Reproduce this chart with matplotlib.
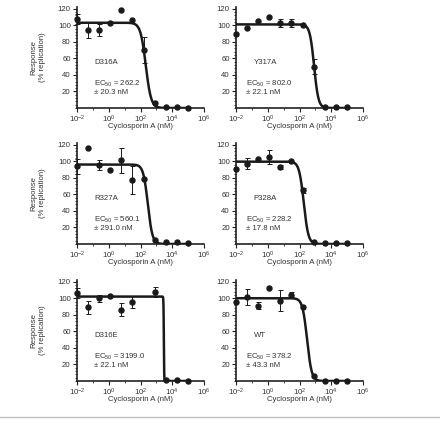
import numpy as np
import matplotlib
matplotlib.use("Agg")
import matplotlib.pyplot as plt
from matplotlib.ticker import FixedLocator, MultipleLocator, NullFormatter
from matplotlib.lines import Line2D

plt.rcParams['font.family'] = ['Liberation Sans', 'DejaVu Sans']
plt.rcParams['mathtext.default'] = 'regular'

# Concentrations (nM), 5-fold dilution series
conc = [0.01, 0.05, 0.25, 1.25, 6.25, 31.25, 156.25, 781.25, 3906.25, 19531.25, 97656.25]

names = ["D316A", "Y317A", "R327A", "P328A", "D316E", "WT"]
ec50_text = ["262.2", "802.0", "560.1", "228.2", "3199.0", "378.2"]
ec50_err_text = ["20.3", "22.1", "291.0", "17.8", "22.1", "43.3"]

resp_D316A = [107, 94, 94, 103, 118, 106, 70, 6, 1, 1, 0.5]
err_D316A = [6, 10, 7, 0, 0, 0, 16, 0, 0, 0, 0]
resp_Y317A = [89, 97, 105, 110, 103, 103, 100, 50, 1, 1, 1]
err_Y317A = [0, 0, 0, 0, 5, 5, 0, 9.5, 0, 0, 0]
resp_R327A = [94, 116, 95, 89, 101, 77, 79, 5, 3, 3, 1]
err_R327A = [9, 0, 6, 0, 15, 17, 0, 0, 0, 0, 0]
resp_P328A = [91, 97, 103, 105, 93, 100, 65, 2, 1, 1, 1]
err_P328A = [0, 7, 0, 8, 3, 0, 3, 0, 0, 0, 0]
conc_D316E = [0.01, 0.05, 0.25, 1.25, 6.25, 31.25, 781.25, 3906.25, 19531.25, 97656.25]
resp_D316E = [106.5, 89, 100, 103, 86, 95.5, 107, 1.5, 1, 0.5]
err_D316E = [6, 8, 4, 0, 8, 7, 6, 0, 0, 0]
resp_WT = [95.5, 101.5, 91, 112, 97, 104, 89, 6.5, 0.5, 0.5, 0.5]
err_WT = [0, 10, 4, 0, 13, 3, 0, 0, 0, 0, 0]

# Fitted curve parameters (visual): top, midpoint (nM), Hill slope
fit_top = [103, 101, 96, 99.5, 102, 100]
fit_mid = [215, 830, 290, 185, 2950, 300]
fit_hill = [2.6, 3.2, 3.0, 3.0, 40, 3.0]

concs = [conc, conc, conc, conc, conc_D316E, conc]
resps = [resp_D316A, resp_Y317A, resp_R327A, resp_P328A, resp_D316E, resp_WT]
errs = [err_D316A, err_Y317A, err_R327A, err_P328A, err_D316E, err_WT]

W, H = 440, 424
fig = plt.figure(figsize=(W / 100, H / 100), dpi=100)

col_x = [77, 236]
row_bottom = [108, 244, 381]
ax_w = 127
ax_h = 101
tc = '#333333'
fs = 5.6

for i in range(6):
    r, c = divmod(i, 2)
    ax = fig.add_axes([col_x[c] / W, 1 - row_bottom[r] / H, ax_w / W, ax_h / H])
    ax.set_xscale('log')
    ax.set_xlim(1e-2, 1e6)
    ax.set_ylim(0, 122)
    for s in ['top', 'right']:
        ax.spines[s].set_visible(False)
    for s in ['left', 'bottom']:
        ax.spines[s].set_linewidth(1.2)
        ax.spines[s].set_color('#222222')

    xs = np.logspace(-2, 5, 600)
    ys = fit_top[i] / (1 + (xs / fit_mid[i]) ** fit_hill[i])
    ax.plot(xs, ys, color='#1a1a1a', lw=1.8, zorder=3)

    e = np.array(errs[i], dtype=float)
    ax.errorbar(concs[i], resps[i], yerr=np.where(e > 0, e, np.nan), fmt='o', color='#1a1a1a',
                ms=3.6, elinewidth=0.7, capsize=1.8, capthick=0.7, zorder=4, clip_on=False)

    ax.xaxis.set_major_locator(FixedLocator([1e-2, 1e0, 1e2, 1e4, 1e6]))
    ax.xaxis.set_minor_locator(FixedLocator([1e-1, 1e1, 1e3, 1e5]))
    ax.xaxis.set_minor_formatter(NullFormatter())
    ax.set_xticklabels(["$10^{-2}$", "$10^{0}$", "$10^{2}$", "$10^{4}$", "$10^{6}$"])
    ax.yaxis.set_major_locator(FixedLocator([20, 40, 60, 80, 100, 120]))
    ax.yaxis.set_minor_locator(MultipleLocator(4))
    ax.tick_params(axis='both', which='major', length=3, width=0.8, labelsize=fs,
                   colors='#222222', labelcolor=tc)
    ax.tick_params(axis='x', which='major', pad=0.8)
    ax.tick_params(axis='y', which='major', pad=1.5)
    ax.tick_params(axis='both', which='minor', length=1.5, width=0.6, colors='#222222')

    ax.set_xlabel("Cyclosporin A (nM)", fontsize=fs, color=tc, va='center')
    ax.xaxis.set_label_coords(0.5, -0.185)
    if c == 0:
        ax.set_ylabel("Response\n(% replication)", fontsize=fs, color=tc, linespacing=1.2,
                      va='center')
        ax.yaxis.set_label_coords(-0.305, 0.5)
        lx, ex = 0.135, 0.135
    else:
        lx, ex = 0.14, 0.08
    ax.text(lx, 0.45, names[i], transform=ax.transAxes, fontsize=fs, color=tc, va='center')
    ax.text(ex, 0.24, "EC$_{50}$ = " + ec50_text[i], transform=ax.transAxes, fontsize=fs,
            color=tc, va='center')
    ax.text(ex, 0.155, "± " + ec50_err_text[i] + " nM", transform=ax.transAxes, fontsize=fs,
            color=tc, va='center')

fig.add_artist(Line2D([0, 1], [1 - 417 / H, 1 - 417 / H], color='#c0c0c0', lw=1.0))

fig.savefig("out.png", dpi=100)
